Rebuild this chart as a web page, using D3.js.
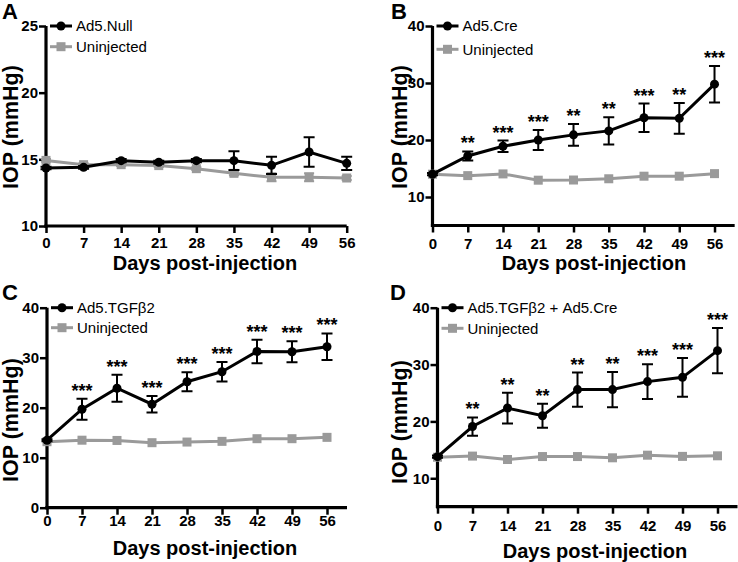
<!DOCTYPE html>
<html><head><meta charset="utf-8">
<script src="https://cdn.jsdelivr.net/npm/d3@7"></script>
<style>
body{margin:0;background:#fff;}
text{font-family:"Liberation Sans",Arial,Helvetica,sans-serif;}
</style></head>
<body><svg id="chart" width="738" height="562"></svg>
<script>
const days = [0, 7, 14, 21, 28, 35, 42, 49, 56];

// Panel A
const nullMean = [14.35, 14.4, 14.9, 14.78, 14.9, 14.9, 14.55, 15.55, 14.7];
const nullErr  = [0.1, 0.1, 0.12, 0.12, 0.12, 0.7, 0.65, 1.1, 0.5];
const uninjA   = [14.92, 14.6, 14.6, 14.53, 14.3, 13.95, 13.65, 13.65, 13.6];
const uninjAErr= [0.1, 0.1, 0.1, 0.1, 0.1, 0.15, 0.3, 0.3, 0.15];
const starsA   = ["", "", "", "", "", "", "", "", ""];

// Panel B
const creMean = [14.0, 17.2, 18.9, 20.0, 20.9, 21.6, 23.9, 23.8, 29.8];
const creErr  = [0.2, 0.8, 1.0, 1.75, 1.9, 2.4, 2.5, 2.7, 3.2];
const uninjB  = [14.0, 13.75, 14.05, 12.95, 12.98, 13.2, 13.65, 13.65, 14.1];
const starsB  = ["", "**", "***", "***", "**", "**", "***", "**", "***"];

// Panel C
const tgfMean = [13.5, 19.7, 23.9, 20.7, 25.2, 27.2, 31.25, 31.2, 32.2];
const tgfErr  = [0.2, 2.1, 2.7, 1.65, 1.9, 1.95, 2.35, 2.1, 2.65];
const uninjC  = [13.2, 13.5, 13.45, 13.0, 13.13, 13.27, 13.8, 13.8, 14.07];
const starsC  = ["", "***", "***", "***", "***", "***", "***", "***", "***"];

// Panel D
const comboMean = [13.8, 19.1, 22.35, 21.0, 25.6, 25.6, 27.0, 27.75, 32.45];
const comboErr  = [0.2, 1.6, 2.7, 2.1, 3.0, 3.1, 3.05, 3.4, 4.0];
const uninjD    = [13.7, 13.9, 13.3, 13.82, 13.82, 13.6, 14.06, 13.85, 13.95];
const starsD    = ["", "**", "**", "**", "**", "**", "***", "***", "***"];

const yTicksA = [10, 15, 20, 25];
const yTicksB = [10, 20, 30, 40];
const yTicksC = [0, 10, 20, 30, 40];
const yTicksD = [10, 20, 30, 40];
const xTicks = days;

const treatNames = ["Ad5.Null", "Ad5.Cre", "Ad5.TGFβ2", "Ad5.TGFβ2 + Ad5.Cre"];
const panelLetters = ["A", "B", "C", "D"];

const GRAY = "#9a9a9a";
const svg = d3.select("#chart");

const panels = [
  {letter: panelLetters[0], name: treatNames[0], mean: nullMean, err: nullErr, un: uninjA, unErr: uninjAErr, stars: starsA,
   xd: [0, 56], xr: [46, 346.7], yd: [10, 25], yr: [226, 26], yt: yTicksA,
   letterPos: [2, 19], leg: [26, 46.7], xLabY: 248.3, xTitle: [205, 270], yTitle: [11, 127]},
  {letter: panelLetters[1], name: treatNames[1], mean: creMean, err: creErr, un: uninjB, unErr: null, stars: starsB,
   xd: [0, 60], xr: [432.5, 432.5 + 60 * 5.036], yd: [5, 40], yr: [225.5, 26], yt: yTicksB,
   letterPos: [391, 19], leg: [26, 49.3], xLabY: 248.5, xTitle: [594, 270], yTitle: [400, 127]},
  {letter: panelLetters[2], name: treatNames[2], mean: tgfMean, err: tgfErr, un: uninjC, unErr: null, stars: starsC,
   xd: [0, 60], xr: [47, 347], yd: [0, 40], yr: [507.7, 307.7], yt: yTicksC,
   letterPos: [2, 300], leg: [307.7, 327.7], xLabY: 526.5, xTitle: [205, 555], yTitle: [11, 420]},
  {letter: panelLetters[3], name: treatNames[3], mean: comboMean, err: comboErr, un: uninjD, unErr: null, stars: starsD,
   xd: [0, 60], xr: [437.5, 737.5], yd: [5, 40], yr: [506.7, 307.7], yt: yTicksD,
   letterPos: [390, 300], leg: [307.7, 328.3], xLabY: 531, xTitle: [595, 558], yTitle: [400, 422]}
];

panels.forEach(p => {
  const g = svg.append("g");
  const x = d3.scaleLinear().domain(p.xd).range(p.xr);
  const y = d3.scaleLinear().domain(p.yd).range(p.yr);
  const x0 = p.xr[0];

  // y axis
  const ya = g.append("g").attr("transform", `translate(${x0},0)`)
    .call(d3.axisLeft(y).tickValues(p.yt).tickSize(7).tickSizeOuter(0).tickPadding(1));
  ya.select(".domain").attr("stroke", "#000").attr("stroke-width", 3.2);
  ya.selectAll(".tick line").attr("stroke-width", 2.5);
  ya.selectAll(".tick text").attr("font-size", 15).attr("font-weight", "bold").attr("fill", "#000")
    .attr("font-family", '"Liberation Sans",Arial,sans-serif');

  // x axis
  const xa = g.append("g").attr("transform", `translate(0,${p.yr[0]})`)
    .call(d3.axisBottom(x).tickValues(xTicks).tickSize(7).tickSizeOuter(0).tickFormat(d3.format("d")));
  xa.select(".domain").attr("stroke", "#000").attr("stroke-width", 3.2)
    .attr("d", `M${p.xr[0] - 1.6},0H${p.xr[1]}`);
  xa.selectAll(".tick line").attr("stroke-width", 2.5);
  xa.selectAll(".tick text").attr("font-size", 15).attr("font-weight", "bold").attr("fill", "#000")
    .attr("font-family", '"Liberation Sans",Arial,sans-serif')
    .attr("dy", null).attr("y", p.xLabY - p.yr[0]);

  // y axis extends vertically through the corner
  ya.select(".domain").attr("d", `M0,${p.yr[0] + 1.6}V${p.yr[1]}`);

  // titles
  g.append("text").attr("x", p.xTitle[0]).attr("y", p.xTitle[1]).attr("text-anchor", "middle")
    .attr("font-size", 20).attr("font-weight", "bold").text("Days post-injection");
  g.append("text").attr("transform", `translate(${p.yTitle[0] + 7},${p.yTitle[1]}) rotate(-90)`)
    .attr("text-anchor", "middle").attr("font-size", 21.5).attr("font-weight", "bold").text("IOP (mmHg)");
  g.append("text").attr("x", p.letterPos[0]).attr("y", p.letterPos[1])
    .attr("font-size", 22).attr("font-weight", "bold").text(p.letter);

  const line = d3.line().x((d, i) => x(days[i])).y(d => y(d));

  // uninjected (gray)
  if (p.unErr) {
    g.append("g").selectAll("path").data(p.un).join("path")
      .attr("d", (d, i) => {
        const cx = x(days[i]), t = y(d + p.unErr[i]), b = y(d - p.unErr[i]);
        return `M${cx},${t}V${b}M${cx - 5},${t}H${cx + 5}M${cx - 5},${b}H${cx + 5}`;
      })
      .attr("stroke", GRAY).attr("stroke-width", 2).attr("fill", "none");
  }
  g.append("path").datum(p.un).attr("d", line).attr("fill", "none")
    .attr("stroke", GRAY).attr("stroke-width", 3);
  g.append("g").selectAll("rect").data(p.un).join("rect")
    .attr("x", (d, i) => x(days[i]) - 4.5).attr("y", d => y(d) - 4.5)
    .attr("width", 9).attr("height", 9).attr("fill", GRAY);

  // treatment (black) error bars
  g.append("g").selectAll("path").data(p.mean).join("path")
    .attr("d", (d, i) => {
      const cx = x(days[i]), t = y(d + p.err[i]), b = y(d - p.err[i]);
      return `M${cx},${t}V${b}M${cx - 5.5},${t}H${cx + 5.5}M${cx - 5.5},${b}H${cx + 5.5}`;
    })
    .attr("stroke", "#000").attr("stroke-width", 2).attr("fill", "none");
  g.append("path").datum(p.mean).attr("d", line).attr("fill", "none")
    .attr("stroke", "#000").attr("stroke-width", 3);
  g.append("g").selectAll("circle").data(p.mean).join("circle")
    .attr("cx", (d, i) => x(days[i])).attr("cy", d => y(d)).attr("r", 4.5).attr("fill", "#000");

  // significance stars
  g.append("g").selectAll("text").data(p.stars).join("text")
    .attr("x", (d, i) => x(days[i])).attr("y", (d, i) => y(p.mean[i] + p.err[i]) - 2)
    .attr("text-anchor", "middle").attr("font-size", 18).attr("font-weight", "bold").text(d => d);

  // legend
  const lx = x0 + 4;
  const legRows = [
    {name: p.name, color: "#000", shape: "circle", yy: p.leg[0]},
    {name: "Uninjected", color: GRAY, shape: "rect", yy: p.leg[1]}
  ];
  legRows.forEach(r => {
    g.append("line").attr("x1", lx).attr("x2", lx + 22).attr("y1", r.yy).attr("y2", r.yy)
      .attr("stroke", r.color).attr("stroke-width", 3);
    if (r.shape === "circle") {
      g.append("circle").attr("cx", lx + 11).attr("cy", r.yy).attr("r", 4.5).attr("fill", r.color);
    } else {
      g.append("rect").attr("x", lx + 6.5).attr("y", r.yy - 4.5).attr("width", 9).attr("height", 9).attr("fill", r.color);
    }
    g.append("text").attr("x", lx + 26).attr("y", r.yy + 5.3).attr("font-size", 15).text(r.name);
  });
});
</script>
</body></html>
